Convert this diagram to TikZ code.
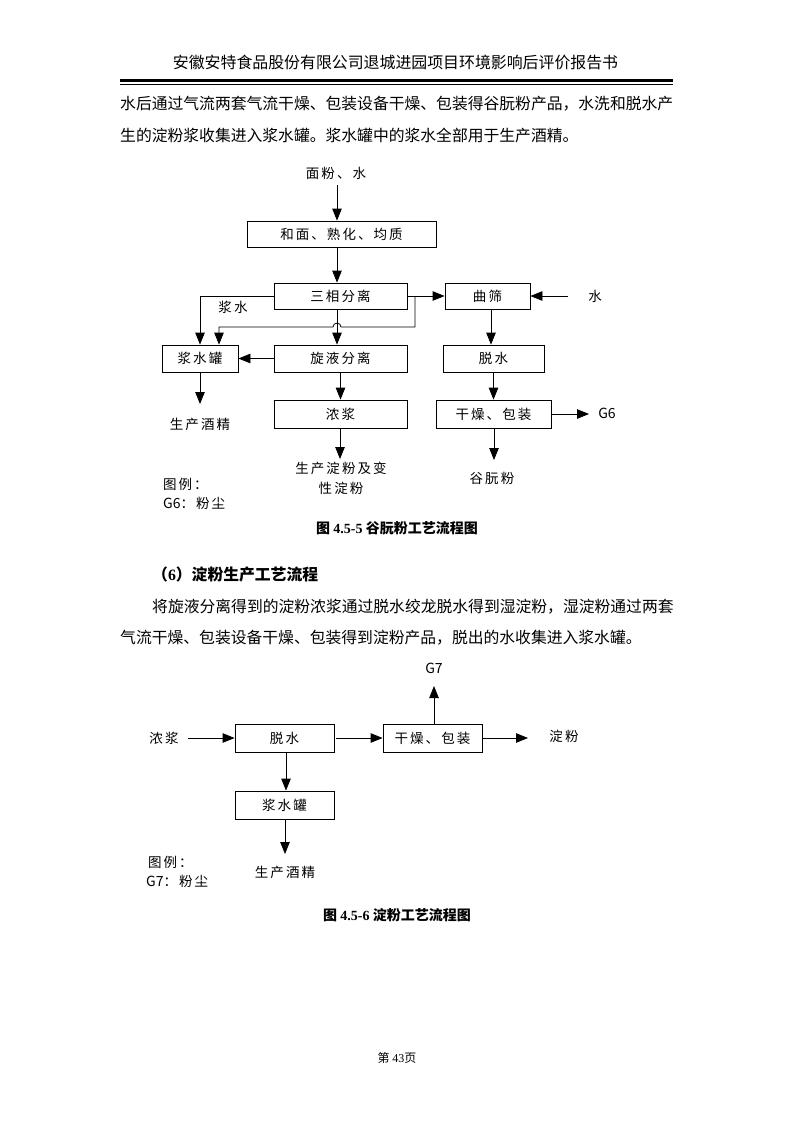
\documentclass[tikz,border=0pt]{standalone}
\usepackage{fontspec}
\setmainfont{Noto Sans CJK SC}
\newfontfamily\lser{Liberation Serif}
\newfontfamily\dgf[LetterSpace=15]{Noto Sans CJK SC}
\newfontfamily\plainf{Noto Sans CJK SC}
\newcommand\dgfont{\dgf\fontsize{13.5}{20}\selectfont}
\newcommand\gfont{\plainf\fontsize{14}{16}\selectfont}
\usetikzlibrary{arrows.meta}
\begin{document}
\begin{tikzpicture}[x=1pt,y=-1pt,
  box/.style={draw, line width=0.8pt, inner sep=0pt, font=\dgfont},
  arr/.style={-{Triangle[length=12pt,width=9.5pt]}, line width=0.8pt},
  lbl/.style={inner sep=0pt, font=\dgfont},
  body/.style={inner sep=0pt, anchor=west, font=\fontsize{15.8}{16}\selectfont},
  captext/.style={inner sep=0pt, font=\fontsize{14}{16}\selectfont\bfseries},
]
\fill[white] (0,0) rectangle (793,1122);
\useasboundingbox (0,0) rectangle (793,1122);

% header
\node[inner sep=0pt, font=\fontsize{15.9}{16}\selectfont] (hdr) at (395.5,62) {安徽安特食品股份有限公司退城进园项目环境影响后评价报告书};
\draw[line width=3pt] (120,80.5) -- (673,80.5);
\draw[line width=0.9pt] (120,84.8) -- (673,84.8);

\node[body] (p1) at (120,104) {水后通过气流两套气流干燥、包装设备干燥、包装得谷朊粉产品，水洗和脱水产};
\node[body] (p2) at (120,135) {生的淀粉浆收集进入浆水罐。浆水罐中的浆水全部用于生产酒精。};

% ---------- diagram 1 ----------
\node[lbl] (mf) at (336,173) {面粉、水};
\node[box, minimum width=189pt, minimum height=26pt] (hm) at (341.5,234) {和面、熟化、均质};
\node[box, minimum width=133pt, minimum height=26pt] (sx) at (340.5,296) {三相分离};
\node[box, minimum width=85pt, minimum height=26pt] (qs) at (487.5,296) {曲筛};
\node[lbl] (w) at (595,296) {水};
\node[lbl] (jsl) at (233,307) {浆水};
\node[box, minimum width=76pt, minimum height=27pt] (jsg) at (200,358.5) {浆水罐};
\node[box, minimum width=133pt, minimum height=27pt] (yy) at (340.5,358.5) {旋液分离};
\node[box, minimum width=101pt, minimum height=27pt] (ts) at (493.5,358.5) {脱水};
\node[box, minimum width=133pt, minimum height=28pt] (nj) at (340.5,414) {浓浆};
\node[box, minimum width=115pt, minimum height=28pt] (gz) at (493.5,414) {干燥、包装};
\node[lbl] (jj) at (200,424) {生产酒精};
\node[lbl, align=center] (dfl) at (341,478) {生产淀粉及变\\性淀粉};
\node[lbl] (gzf) at (492,478) {谷朊粉};
\node[lbl, font=\gfont] (g6) at (607,413) {G6};
\node[lbl, anchor=west] (lg1) at (163,484) {图例：};
\node[lbl, anchor=west] (lg2) at (163,503) {{\gfont G6}：粉尘};

\coordinate (xA) at (337,0);
\coordinate (a0) at (337,185);
\coordinate (ws) at (568,296);
\coordinate (br) at (415,296);
\coordinate (xB) at (219,327);
\coordinate (xC) at (491,0);
\coordinate (e1) at (200,404);
\coordinate (e2) at (340,459);
\coordinate (e3) at (494,460);
\coordinate (e4) at (589,414);

\draw[arr] (a0) -- (a0 |- hm.north);
\draw[arr] (hm.south -| xA) -- (sx.north -| xA);
\draw[arr] (sx.east) -- (qs.west);
\draw[arr] (ws) -- (qs.east);
\draw[arr] (sx.west) -| (jsg.north);
\draw[arr] (br) -- (br |- xB) -- ([xshift=4pt]xA |- xB) arc[start angle=0, end angle=-180, radius=4] -- (xB) -- (xB |- jsg.north);
\draw[arr] (sx.south -| xA) -- (yy.north -| xA);
\draw[arr] (qs.south -| xC) -- (ts.north -| xC);
\draw[arr] (yy.west) -- (jsg.east);
\draw[arr] (jsg.south) -- (e1);
\draw[arr] (yy.south) -- (nj.north);
\draw[arr] (ts.south) -- (gz.north);
\draw[arr] (gz.east) -- (e4);
\draw[arr] (nj.south -| e2) -- (e2);
\draw[arr] (gz.south -| e3) -- (e3);

\node[captext] (cap1) at (397,528) {图 {\lser\bfseries 4.5-5} 谷朊粉工艺流程图};

% section 6
\node[inner sep=0pt, anchor=west, font=\fontsize{15.8}{16}\selectfont\bfseries] (sec) at (152,575) {（{\lser\bfseries 6}）淀粉生产工艺流程};
\node[body] (q1) at (152,607) {将旋液分离得到的淀粉浓浆通过脱水绞龙脱水得到湿淀粉，湿淀粉通过两套};
\node[body] (q2) at (120,638) {气流干燥、包装设备干燥、包装得到淀粉产品，脱出的水收集进入浆水罐。};

% ---------- diagram 2 ----------
\node[lbl, font=\gfont] (g7) at (434,668) {G7};
\node[box, minimum width=99pt, minimum height=28pt] (gz2) at (432.5,738) {干燥、包装};
\node[box, minimum width=99pt, minimum height=28pt] (ts2) at (284.5,738) {脱水};
\node[lbl] (nj2) at (164,738) {浓浆};
\node[lbl] (df2) at (564,736) {淀粉};
\node[box, minimum width=99pt, minimum height=28pt] (jsg2) at (284.5,805) {浆水罐};
\node[lbl] (jj2) at (285,872) {生产酒精};
\node[lbl, anchor=west] (lg3) at (148,862) {图例：};
\node[lbl, anchor=west] (lg4) at (146,881) {{\gfont G7}：粉尘};

\coordinate (n2s) at (188,738);
\coordinate (d2e) at (528,738);
\coordinate (g7e) at (434,686);
\coordinate (xD) at (286,0);
\coordinate (j2e) at (285,854);

\draw[arr] (n2s) -- (ts2.west);
\draw[arr] ([xshift=2pt]ts2.east) -- (gz2.west);
\draw[arr] (gz2.east) -- (d2e);
\draw[arr] (gz2.north -| g7e) -- (g7e);
\draw[arr] (ts2.south -| xD) -- (jsg2.north -| xD);
\draw[arr] (jsg2.south -| j2e) -- (j2e);

\node[captext] (cap2) at (397,915) {图 {\lser\bfseries 4.5-6} 淀粉工艺流程图};

\node[inner sep=0pt, font=\fontsize{12}{14}\selectfont] (pg) at (397,1058) {第 {\lser 43}页};
\end{tikzpicture}
\end{document}
